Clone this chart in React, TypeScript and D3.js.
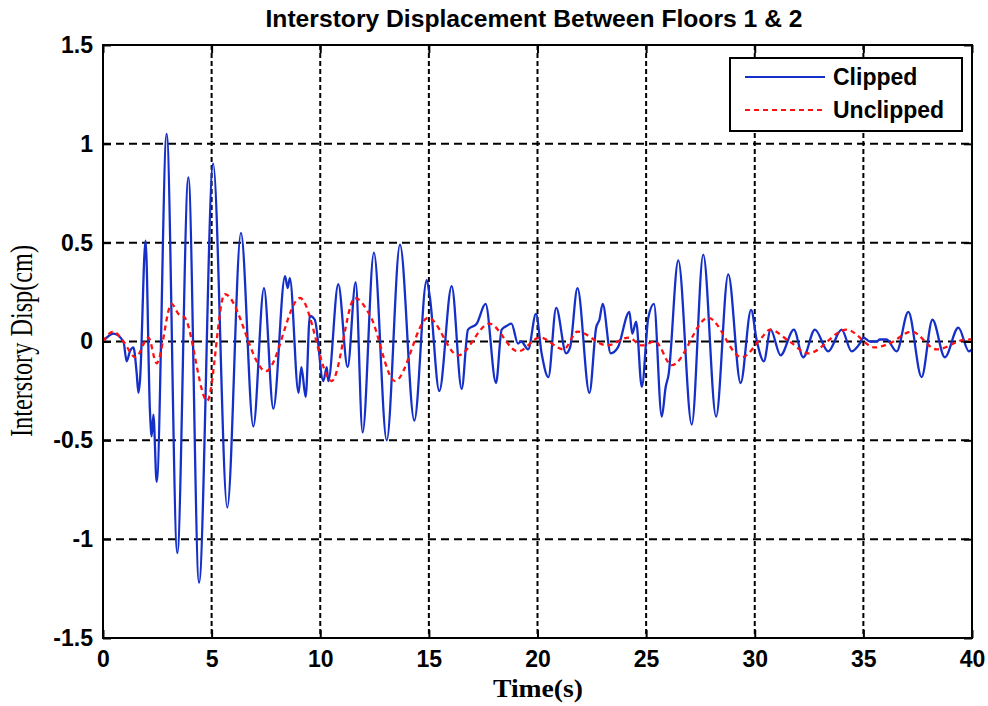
import React, { useRef, useEffect } from 'react';
import * as d3 from 'd3';

// values (peaks, troughs and a few shoulders)
const clippedTime = [
  0, 0.48, 0.94, 1.09, 1.24, 1.4, 1.55, 1.63, 1.7, 1.96, 2.16, 2.24, 2.32, 2.47,
  2.93, 3.42, 3.93, 4.42, 5.07, 5.72, 6.35, 6.92, 7.41, 7.84, 8.38, 8.5, 8.6,
  9.0, 9.13, 9.33, 9.52, 9.75, 10.14, 10.3, 10.37, 10.83, 11.26, 11.63, 11.95,
  12.47, 13.06, 13.67, 14.33, 14.9, 15.05, 15.48, 16.05, 16.51, 16.8, 17.2,
  17.61, 18.09, 18.35, 18.6, 18.8, 19.1, 19.25, 19.57, 19.93, 20.19, 20.5,
  20.86, 21.32, 21.5, 21.84, 22.39, 22.7, 22.85, 23.0, 23.37, 23.7, 24.23,
  24.36, 24.54, 24.8, 25.1, 25.36, 25.72, 25.9, 26.03, 26.48, 27.1, 27.63,
  28.22, 28.78, 29.35, 29.83, 30.1, 30.42, 30.73, 31.19, 31.8, 32.23, 32.77,
  33.38, 34.0, 34.46, 34.84, 35.0, 35.3, 35.6, 35.76, 36.07, 36.53, 37.07,
  37.68, 38.18, 38.75, 39.37, 39.86, 40,
];
const clippedDisp = [
  0, 0.04, 0.0, -0.1, -0.05, -0.03, -0.16, -0.26, -0.2, 0.51, -0.35, -0.48,
  -0.37, -0.71, 1.05, -1.07, 0.83, -1.22, 0.9, -0.84, 0.55, -0.43, 0.27, -0.34,
  0.33, 0.27, 0.32, -0.26, -0.13, -0.28, 0.13, 0.11, -0.2, -0.13, -0.2, 0.29,
  -0.13, 0.3, -0.46, 0.45, -0.5, 0.49, -0.4, 0.31, 0.22, -0.25, 0.28, -0.24,
  0.06, 0.09, 0.19, -0.21, 0.06, 0.08, 0.09, -0.01, 0.0, -0.04, 0.14, -0.06,
  -0.18, 0.17, -0.06, -0.03, 0.27, -0.26, 0.07, 0.11, 0.19, -0.06, -0.03, 0.15,
  0.04, 0.1, -0.23, 0.12, 0.19, -0.38, -0.23, -0.17, 0.41, -0.42, 0.44, -0.38,
  0.34, -0.21, 0.16, 0.0, -0.1, 0.06, -0.07, 0.06, -0.08, 0.06, -0.05, 0.06,
  -0.05, -0.01, 0.02, 0.0, 0.0, 0.01, 0.01, -0.05, 0.15, -0.18, 0.11, -0.08,
  0.07, -0.05, -0.04,
];

const unclippedTime = [
  0, 0.48, 0.94, 1.5, 2.09, 2.47, 3.16, 3.47, 3.77, 4.8, 5.6, 7.5, 9.07, 10.53,
  11.6, 12.3, 13.44, 14.97, 16.35, 17.78, 19.1, 20.12, 21.2, 21.84, 23.2, 24.2,
  24.8, 25.41, 26.18, 27.86, 29.4, 30.32, 30.7, 31.6, 32.46, 34.23, 35.53,
  36.2, 37.22, 38.37, 39.75, 40,
];
const unclippedDisp = [
  0, 0.05, 0.0, -0.08, 0.02, -0.11, 0.19, 0.14, 0.12, -0.3, 0.24, -0.15, 0.22,
  -0.2, 0.22, 0.13, -0.2, 0.12, -0.07, 0.09, -0.05, 0.02, -0.04, 0.05, -0.02,
  0.02, -0.02, 0.0, -0.12, 0.12, -0.08, 0.02, 0.06, 0.0, -0.06, 0.06, -0.03,
  -0.01, 0.05, -0.04, 0.01, 0.01,
];

const xTicks = [0, 5, 10, 15, 20, 25, 30, 35, 40];
const yTicks = [-1.5, -1, -0.5, 0, 0.5, 1, 1.5];
const seriesNames = ['Clipped', 'Unclipped'];

const App = () => {
  const svgRef = useRef<SVGSVGElement>(null);

  useEffect(() => {
    document.body.style.margin = '0';
    const svg = d3.select(svgRef.current);
    svg.selectAll('*').remove();

    const left = 103, right = 972, top = 45, bottom = 638;
    const x = d3.scaleLinear().domain([0, 40]).range([left, right]);
    const y = d3.scaleLinear().domain([-1.5, 1.5]).range([bottom, top]);
    const sans = '"Liberation Sans", Arial, sans-serif';
    const serif = '"Liberation Serif", "Times New Roman", serif';
    const blue = '#1530c8';
    const red = '#ff1010';

    svg.append('rect').attr('width', 988).attr('height', 706).attr('fill', '#fff');

    // grid
    const grid = svg.append('g').attr('stroke', '#000').attr('stroke-width', 2);
    grid.selectAll('line.gx')
      .data(xTicks.slice(1, -1))
      .join('line')
      .attr('class', 'gx')
      .attr('x1', (d) => x(d)).attr('x2', (d) => x(d))
      .attr('y1', top).attr('y2', bottom)
      .attr('stroke-dasharray', '5,3');
    grid.selectAll('line.gy')
      .data(yTicks.slice(1, -1))
      .join('line')
      .attr('class', 'gy')
      .attr('y1', (d) => y(d)).attr('y2', (d) => y(d))
      .attr('x1', left).attr('x2', right)
      .attr('stroke-dasharray', '8,5');

    // lines
    svg.append('clipPath').attr('id', 'plotClip')
      .append('rect').attr('x', left).attr('y', top)
      .attr('width', right - left).attr('height', bottom - top);

    const clippedPts = clippedTime.map((t, i) => [x(t), y(clippedDisp[i])] as [number, number]);
    const unclippedPts = unclippedTime.map((t, i) => [x(t), y(unclippedDisp[i])] as [number, number]);
    const pathGen = d3.line().curve(d3.curveMonotoneX);

    svg.append('path')
      .attr('d', pathGen(clippedPts))
      .attr('fill', 'none')
      .attr('stroke', blue)
      .attr('stroke-width', 2.3)
      .attr('clip-path', 'url(#plotClip)');
    svg.append('path')
      .attr('d', pathGen(unclippedPts))
      .attr('fill', 'none')
      .attr('stroke', red)
      .attr('stroke-width', 2.3)
      .attr('stroke-dasharray', '5,4')
      .attr('clip-path', 'url(#plotClip)');

    // axes
    const fmt = (d: d3.NumberValue) => String(d);
    const styleAxis = (g: d3.Selection<SVGGElement, unknown, null, undefined>) => {
      g.select('.domain').remove();
      g.selectAll('.tick line').attr('stroke', '#000').attr('stroke-width', 2);
      g.attr('font-family', sans)
        .attr('font-size', 23)
        .attr('font-weight', 'bold');
      g.selectAll('.tick text').attr('fill', '#000');
    };
    svg.append('g').attr('transform', `translate(0,${bottom})`)
      .call(d3.axisBottom(x).tickValues(xTicks).tickFormat(fmt).tickSize(-8).tickPadding(13))
      .call(styleAxis);
    svg.append('g').attr('transform', `translate(0,${top})`)
      .call(d3.axisTop(x).tickValues(xTicks).tickFormat(() => '').tickSize(-8))
      .call(styleAxis);
    svg.append('g').attr('transform', `translate(${left},0)`)
      .call(d3.axisLeft(y).tickValues(yTicks).tickFormat(fmt).tickSize(-8).tickPadding(10))
      .call(styleAxis);
    svg.append('g').attr('transform', `translate(${right},0)`)
      .call(d3.axisRight(y).tickValues(yTicks).tickFormat(() => '').tickSize(-8))
      .call(styleAxis);

    svg.append('rect')
      .attr('x', left).attr('y', top)
      .attr('width', right - left).attr('height', bottom - top)
      .attr('fill', 'none').attr('stroke', '#000').attr('stroke-width', 2);

    // title and labels
    svg.append('text')
      .attr('x', 534).attr('y', 27)
      .attr('text-anchor', 'middle')
      .attr('font-family', sans)
      .attr('font-weight', 'bold').attr('font-size', 23)
      .attr('textLength', 537).attr('lengthAdjust', 'spacingAndGlyphs')
      .text('Interstory Displacement Between Floors 1 & 2');
    svg.append('text')
      .attr('x', 538).attr('y', 697)
      .attr('text-anchor', 'middle')
      .attr('font-family', serif)
      .attr('font-weight', 'bold').attr('font-size', 26)
      .attr('textLength', 90).attr('lengthAdjust', 'spacingAndGlyphs')
      .text('Time(s)');
    svg.append('text')
      .attr('transform', 'translate(32,341) rotate(-90)')
      .attr('text-anchor', 'middle')
      .attr('font-family', serif)
      .attr('font-size', 32)
      .attr('textLength', 192).attr('lengthAdjust', 'spacingAndGlyphs')
      .text('Interstory Disp(cm)');

    // legend
    const legend = svg.append('g');
    legend.append('rect')
      .attr('x', 730).attr('y', 58).attr('width', 232).attr('height', 73)
      .attr('fill', '#fff').attr('stroke', '#000').attr('stroke-width', 2);
    const rows = legend.selectAll('g.row')
      .data(seriesNames)
      .join('g')
      .attr('class', 'row')
      .attr('transform', (d, i) => `translate(0,${i * 33})`);
    rows.append('line')
      .attr('x1', 745).attr('x2', 825).attr('y1', 77).attr('y2', 77)
      .attr('stroke', (d, i) => (i === 0 ? blue : red))
      .attr('stroke-width', 2)
      .attr('stroke-dasharray', (d, i) => (i === 0 ? null : '5,4'));
    rows.append('text')
      .attr('x', 833).attr('y', 85)
      .attr('font-family', sans)
      .attr('font-weight', 'bold').attr('font-size', 23)
      .text((d) => d);
  }, []);

  return <svg ref={svgRef} width={988} height={706} style={{ display: 'block' }} />;
};

export default App;
